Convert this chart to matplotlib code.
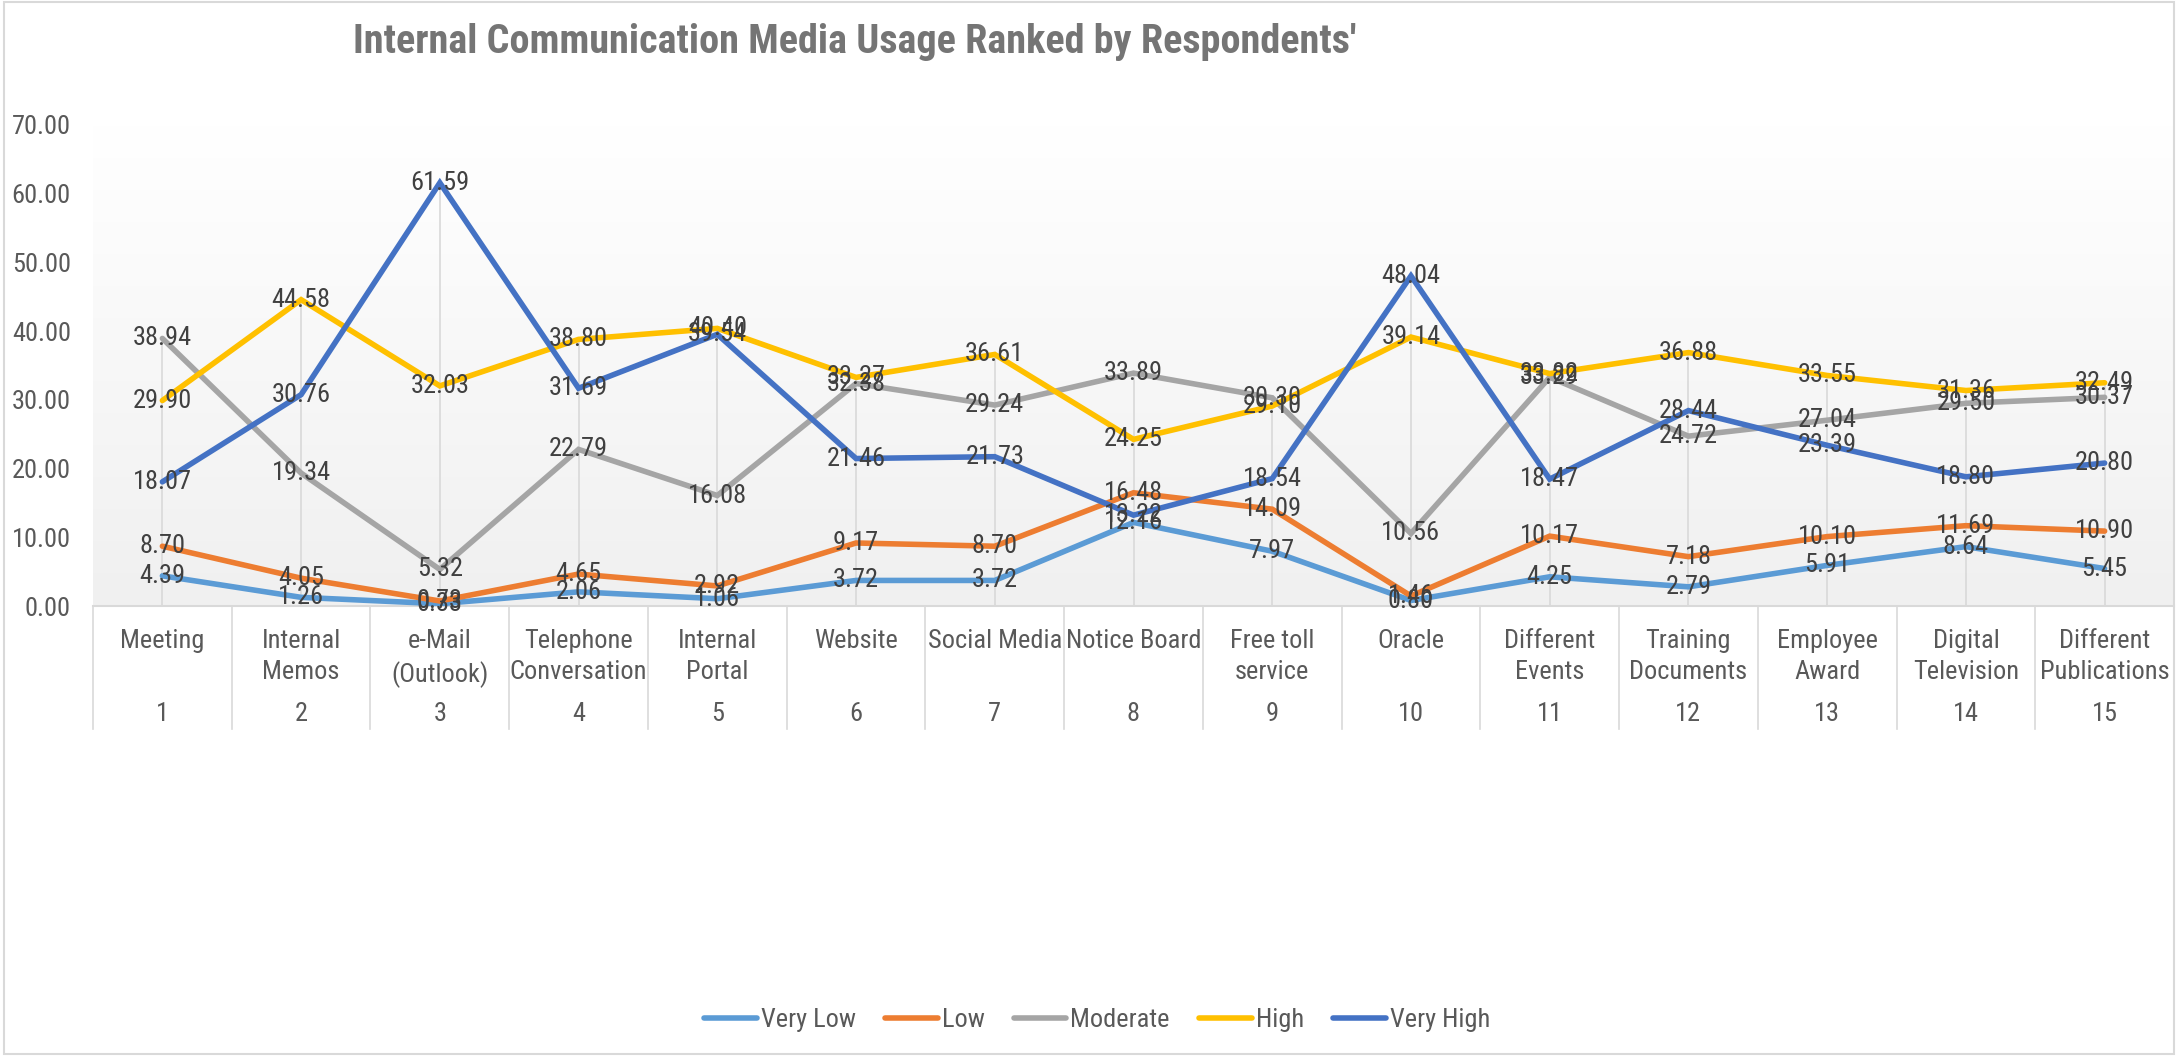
import matplotlib
matplotlib.use("Agg")
import matplotlib.pyplot as plt
import matplotlib.transforms as mtransforms
from matplotlib import font_manager
from matplotlib.font_manager import FontProperties
from matplotlib.colors import LinearSegmentedColormap
import numpy as np

# ---------------- data ----------------
categories = ["Meeting", "Internal\nMemos", "e-Mail\n(Outlook)", "Telephone\nConversation",
              "Internal\nPortal", "Website", "Social Media", "Notice Board", "Free toll\nservice",
              "Oracle", "Different\nEvents", "Training\nDocuments", "Employee\nAward",
              "Digital\nTelevision", "Different\nPublications"]
ranks = [str(i) for i in range(1, 16)]

very_low = [4.39, 1.26, 0.33, 2.06, 1.06, 3.72, 3.72, 12.16, 7.97, 0.80, 4.25, 2.79, 5.91, 8.64, 5.45]
low = [8.70, 4.05, 0.73, 4.65, 2.92, 9.17, 8.70, 16.48, 14.09, 1.46, 10.17, 7.18, 10.10, 11.69, 10.90]
moderate = [38.94, 19.34, 5.32, 22.79, 16.08, 32.38, 29.24, 33.89, 30.30, 10.56, 33.29, 24.72, 27.04, 29.50, 30.37]
high = [29.90, 44.58, 32.03, 38.80, 40.40, 33.27, 36.61, 24.25, 29.10, 39.14, 33.82, 36.88, 33.55, 31.36, 32.49]
very_high = [18.07, 30.76, 61.59, 31.69, 39.54, 21.46, 21.73, 13.22, 18.54, 48.04, 18.47, 28.44, 23.39, 18.80, 20.80]

series_names = ["Very Low", "Low", "Moderate", "High", "Very High"]
series_values = [very_low, low, moderate, high, very_high]
series_colors = ["#5B9BD5", "#ED7D31", "#A5A5A5", "#FFC000", "#4472C4"]

y_ticks = [0, 10, 20, 30, 40, 50, 60, 70]
title = "Internal Communication Media Usage Ranked by Respondents'"

# ---------------- fonts ----------------
def wnum(w):
    if isinstance(w, (int, float)):
        return w
    return font_manager.weight_dict.get(w, 400)

entries = [f for f in font_manager.fontManager.ttflist
           if ("Condensed" in f.name or "Narrow" in f.name or "Condensed" in f.fname
               or "Narrow" in f.fname) and f.style == "normal"]
pref = ["Liberation Sans Narrow", "Roboto Condensed", "Open Sans Condensed",
        "Noto Sans Condensed", "DejaVu Sans Condensed"]

def rank(f):
    try:
        p = pref.index(f.name)
    except ValueError:
        p = len(pref)
    return p

def pick(target):
    cands = [f for f in entries if abs(wnum(f.weight) - target) <= 120]
    if not cands:
        return None
    cands.sort(key=lambda f: (abs(wnum(f.weight) - target), rank(f)))
    return FontProperties(fname=cands[0].fname)

reg = pick(400)
bold = pick(700)
if reg is None:
    reg = FontProperties(family=["Roboto", "DejaVu Sans"])
    fs = 16
else:
    fs = 19
if bold is None:
    bold = FontProperties(family=["DejaVu Sans"], weight="bold")
    tfs = 20.5
else:
    tfs = 29

def fp(size, base=None):
    p = (base or reg).copy()
    p.set_size(size)
    return p

W, H = 2178, 1056
fig = plt.figure(figsize=(W / 100, H / 100), dpi=100)

left_px, right_px, zero_px, top_px = 93, 2174, 606, 125
ax = fig.add_axes([left_px / W, 1 - zero_px / H, (right_px - left_px) / W, (zero_px - top_px) / H])
ax.set_xlim(-0.5, len(categories) - 0.5)
ax.set_ylim(0, 70)

grad = np.linspace(0, 1, 256).reshape(-1, 1)
cmap = LinearSegmentedColormap.from_list("g", ["#F0F0F0", "#FFFFFF"])
ax.imshow(grad, extent=[0, 1, 0, 1], transform=ax.transAxes, cmap=cmap, aspect="auto",
          origin="lower", zorder=0)

x = np.arange(len(categories))
maxv = np.max(np.array(series_values), axis=0)
ax.vlines(x, 0, maxv, colors="#D9D9D9", lw=1.2, zorder=1)

for name, vals, col in zip(series_names, series_values, series_colors):
    ax.plot(x, vals, color=col, lw=4.0, label=name, zorder=3, solid_capstyle="round",
            solid_joinstyle="miter")
for name, vals, col in zip(series_names, series_values, series_colors):
    for xi, v in zip(x, vals):
        ax.text(xi, v, f"{v:.2f}", ha="center", va="center", fontproperties=fp(fs),
                color="#404040", zorder=5)

for s in ax.spines.values():
    s.set_visible(False)
ax.set_xticks([])
ax.set_yticks(y_ticks)
ax.set_yticklabels([f"{t:.2f}" for t in y_ticks], fontproperties=fp(fs))
ax.tick_params(axis="y", length=0, pad=16, labelcolor="#595959")

blend = mtransforms.blended_transform_factory(ax.transData, ax.transAxes)
h_ax = zero_px - top_px
tbl_bottom = -(729 - zero_px) / h_ax
ax.plot([-0.5, len(categories) - 0.5], [0, 0], transform=blend, color="#D9D9D9", lw=1.5,
        clip_on=False, zorder=2)
for b in np.arange(-0.5, len(categories), 1.0):
    ax.plot([b, b], [0, tbl_bottom], transform=blend, color="#D9D9D9", lw=1.2, clip_on=False)
name_y = -(629 - zero_px) / h_ax
num_y = -(714 - zero_px) / h_ax
for xi, c, r in zip(x, categories, ranks):
    ax.text(xi, name_y, c, transform=blend, ha="center", va="top", fontproperties=fp(fs),
            color="#595959", linespacing=1.38)
    ax.text(xi, num_y, r, transform=blend, ha="center", va="center", fontproperties=fp(fs),
            color="#595959")

fig.text(855 / W, 1 - 42 / H, title, ha="center", va="center", fontproperties=fp(tfs, bold),
         color="#757575")

handles, labels = ax.get_legend_handles_labels()
fig.legend(handles, labels, loc="center", bbox_to_anchor=(1097 / W, 1 - 1020 / H), ncol=5,
           frameon=False, prop=fp(fs), handlelength=2.0, columnspacing=1.1, handletextpad=0.15,
           labelcolor="#595959")

fig.add_artist(plt.Rectangle((0.002, 0.002), 0.996, 0.996, transform=fig.transFigure,
                             fill=False, ec="#D9D9D9", lw=1.5))

fig.savefig("out.png", dpi=100)
